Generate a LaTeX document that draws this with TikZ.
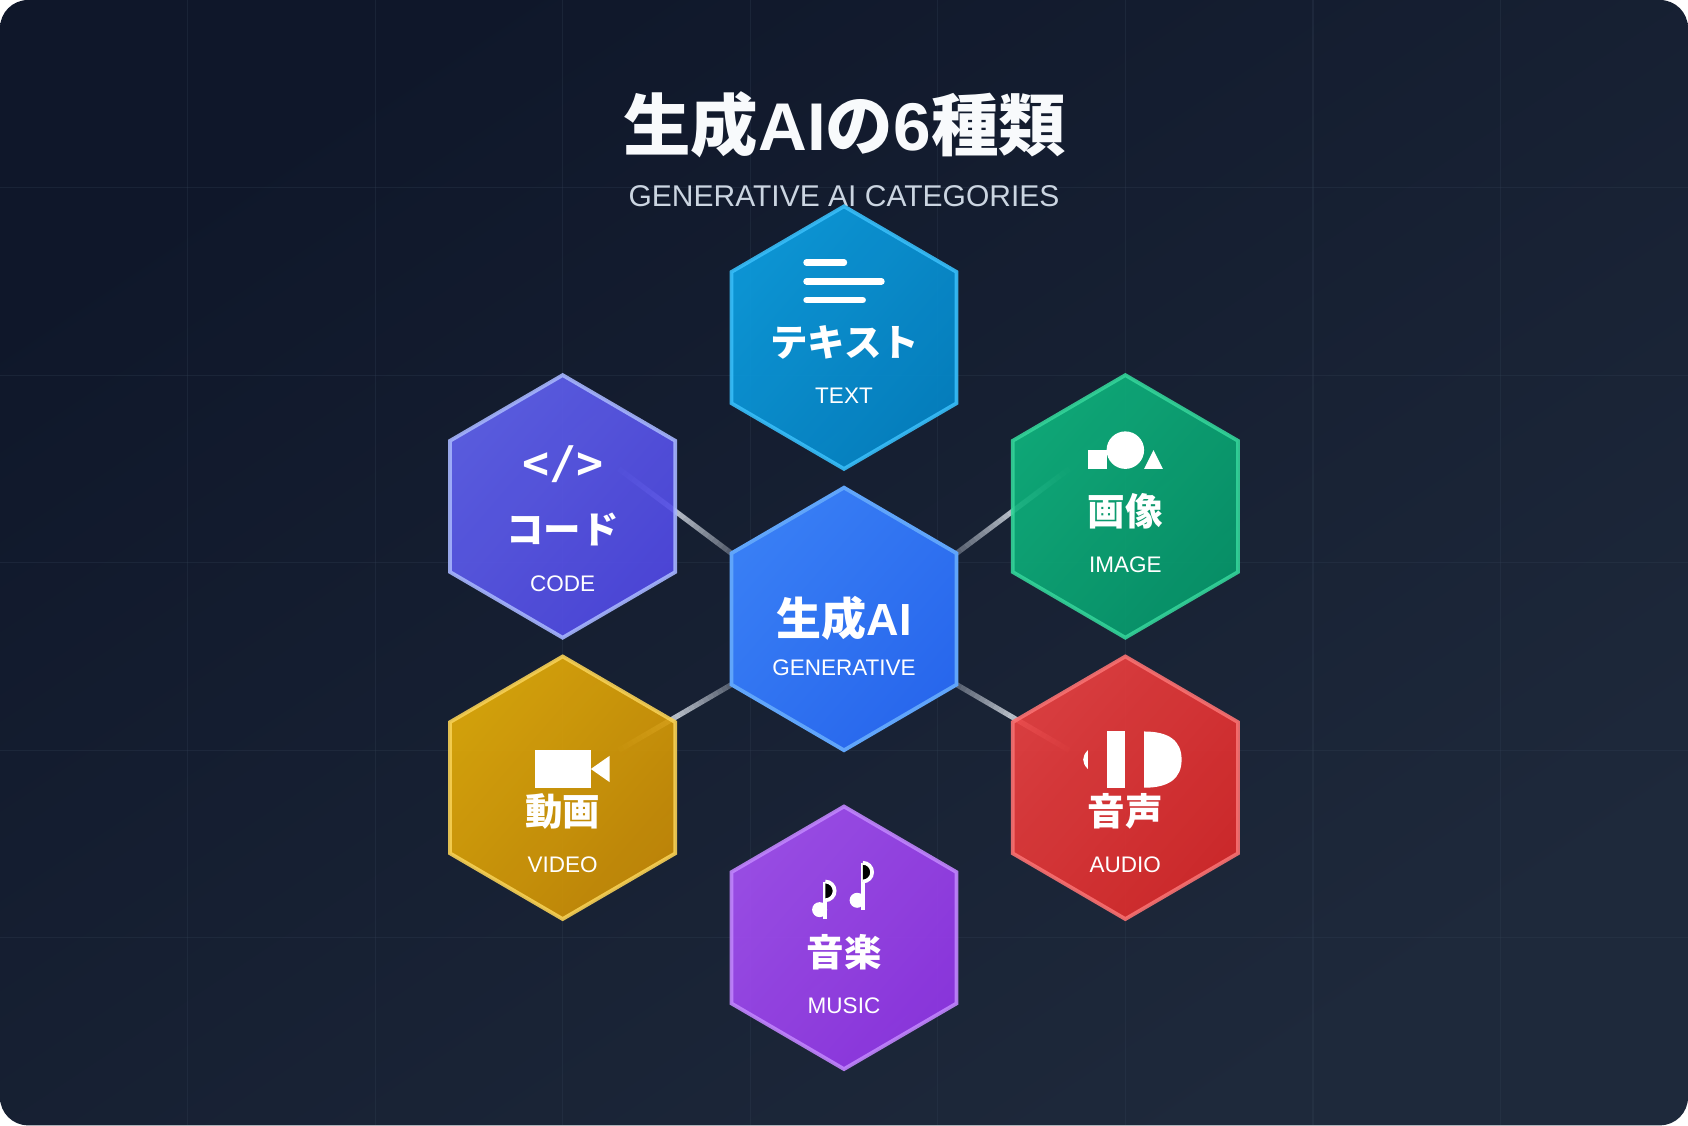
\documentclass[tikz,border=0pt]{standalone}
\usepackage{fontspec}
\setmainfont{Liberation Sans}
\setmonofont{DejaVu Sans Mono}
\newfontfamily\cjkfont{Noto Sans CJK JP}
\usetikzlibrary{shapes.geometric,calc}
\newcommand{\jp}[1]{{\cjkfont #1}}
\definecolor{bgtop}{HTML}{0F172A}
\definecolor{bgend}{HTML}{1E293B}
\definecolor{gridcol}{HTML}{334155}
\definecolor{subcol}{HTML}{CBD5E1}
\definecolor{titlecol}{HTML}{F8FAFC}
\definecolor{linkcol}{HTML}{E2E8F0}
\definecolor{gena}{HTML}{3B82F6}\definecolor{genb}{HTML}{2563EB}\definecolor{genc}{HTML}{60A5FA}
\definecolor{txta}{HTML}{0EA5E9}\definecolor{txtb}{HTML}{0284C7}\definecolor{txtc}{HTML}{38BDF8}
\definecolor{coda}{HTML}{6366F1}\definecolor{codb}{HTML}{4F46E5}\definecolor{codc}{HTML}{A5B4FC}
\definecolor{imga}{HTML}{10B981}\definecolor{imgb}{HTML}{059669}\definecolor{imgc}{HTML}{34D399}
\definecolor{vida}{HTML}{EAB308}\definecolor{vidb}{HTML}{CA8A04}\definecolor{vidc}{HTML}{F6D055}
\definecolor{auda}{HTML}{EF4444}\definecolor{audb}{HTML}{DC2626}\definecolor{audc}{HTML}{F87171}
\definecolor{musa}{HTML}{A855F7}\definecolor{musb}{HTML}{9333EA}\definecolor{musc}{HTML}{C084FC}
\pgfdeclarelayer{back}
\pgfdeclarelayer{wires}
\pgfsetlayers{back,wires,main}
\tikzset{
  hexcell/.style n args={3}{regular polygon,regular polygon sides=6,shape border rotate=30,
    minimum size=131.25pt,inner sep=0pt,outer sep=0pt,line width=1.875pt,xscale=.99,transform shape,
    top color=#1!88!#2,bottom color=#2!88!#1,shading angle=49,draw=#3},
  hexlabel/.style={anchor=base,inner sep=0pt,text=white,font=\bfseries\fontsize{18.75}{20}\selectfont},
  hexsub/.style={anchor=base,inner sep=0pt,text=white,font=\fontsize{11.25}{13}\selectfont},
  link/.style={draw=linkcol,line width=2.6pt}
}
% a link is a row of short pieces, faint at the centre, strongest half way
\newcommand{\linkline}[2]{
  \foreach \i in {0,...,23} {
    \pgfmathsetmacro{\ta}{\i/24}
    \pgfmathsetmacro{\tb}{(\i+1)/24}
    \pgfmathsetmacro{\tm}{(\i+.5)/24}
    \pgfmathsetmacro{\op}{\tm<.5 ? .3+\tm : .8-(\tm-.5)*1.5}
    \draw[link,draw opacity=\op] ($(#1)!\ta!(#2)$)--($(#1)!\tb!(#2)$);
  }
}
\begin{document}
\begin{tikzpicture}[x=0.9375pt,y=-0.9375pt]
\useasboundingbox (0,0) rectangle (900,600);
\begin{pgfonlayer}{back}
% backdrop
\shade[top color=bgtop,bottom color=bgend,shading angle=33.7,rounded corners=14pt] (0,0) rectangle (900,600);
\foreach \x in {100,200,...,800} \draw[gridcol,opacity=.3,line width=.6pt] (\x,0)--(\x,600);
\foreach \y in {100,200,...,500} \draw[gridcol,opacity=.3,line width=.6pt] (0,\y)--(900,\y);
% heading
\node[anchor=base,inner sep=0pt,text=titlecol,font=\bfseries\fontsize{33.75}{36}\selectfont] (title) at (450.4,80) {\jp{生成}AI\jp{の}6\jp{種類}};
\node[anchor=base,inner sep=0pt,text=subcol,font=\fontsize{15}{17}\selectfont] (subtitle) at (450,110) {GENERATIVE AI CATEGORIES};
\end{pgfonlayer}
% hexagons
\node[hexcell={gena}{genb}{genc}] (gen) at (450,330) {};
\begin{scope}[opacity=.9]
\node[hexcell={txta}{txtb}{txtc}] (txt) at (450,180) {};
\node[hexcell={coda}{codb}{codc}] (code) at (300,270) {};
\node[hexcell={imga}{imgb}{imgc}] (img) at (600,270) {};
\node[hexcell={vida}{vidb}{vidc}] (vid) at (300,420) {};
\node[hexcell={auda}{audb}{audc}] (aud) at (600,420) {};
\node[hexcell={musa}{musb}{musc}] (mus) at (450,500) {};
\end{scope}
\coordinate (codeend) at (330,250);
\coordinate (imgend) at (570,250);
\coordinate (vidend) at (330,400);
\coordinate (audend) at (570,400);
\begin{pgfonlayer}{wires}
\linkline{gen.150}{codeend}
\linkline{gen.30}{imgend}
\linkline{gen.210}{vidend}
\linkline{gen.330}{audend}
\end{pgfonlayer}
% labels
\node[hexlabel,font=\bfseries\fontsize{22.5}{24}\selectfont] (genname) at (450,339) {\jp{生成}AI};
\node[hexsub] (gensub) at (450,360) {GENERATIVE};
\node[hexlabel] (txtname) at (450.5,190) {\jp{テキスト}};
\node[hexsub] (txtsub) at (450,215) {TEXT};
\node[hexlabel] (codename) at (300,290) {\jp{コード}};
\node[hexsub] (codesub) at (300,315.5) {CODE};
\node[hexlabel] (imgname) at (600,280) {\jp{画像}};
\node[hexsub] (imgsub) at (600,305) {IMAGE};
\node[hexlabel] (vidname) at (300,440) {\jp{動画}};
\node[hexsub] (vidsub) at (300,465) {VIDEO};
\node[hexlabel] (audname) at (600,440) {\jp{音声}};
\node[hexsub] (audsub) at (600,465) {AUDIO};
\node[hexlabel] (musname) at (450,515.5) {\jp{音楽}};
\node[hexsub] (mussub) at (450,540.5) {MUSIC};
% icons
\draw[white,line width=3.2pt,line cap=round] (430,140)--(450,140);
\draw[white,line width=3.2pt,line cap=round] (430,150)--(470,150);
\draw[white,line width=3.2pt,line cap=round] (430,160)--(460,160);
\node[hexlabel,font=\ttfamily\bfseries\fontsize{22.5}{24}\selectfont] (codeicon) at (300,255) {</>};
\fill[white] (580,240) rectangle (590,250);
\fill[white] (600,240) circle[radius=10];
\fill[white] (615,240)--(620,250)--(610,250)--cycle;
\fill[white] (285,400) rectangle (315,420);
\fill[white] (315,410)--(325,403)--(325,417)--cycle;
\fill[white] (580,400) .. controls (576.7,403.3) and (576.7,406.7) .. (580,410)--cycle;
\fill[white] (590,390) rectangle (600,420);
\fill[white] (610,390) .. controls (623.3,390) and (630,395) .. (630,405) .. controls (630,415) and (623.3,420) .. (610,420)--cycle;
\fill[white] (437,485) circle[radius=4];
\draw[white,line width=1.875pt] (440,490)--(440,470);
\draw[white,fill=black,line width=1.875pt] (440,470) arc[start angle=-90,end angle=90,radius=5];
\fill[white] (457,480) circle[radius=4];
\draw[white,line width=1.875pt] (460,485)--(460,460);
\draw[white,fill=black,line width=1.875pt] (460,460) arc[start angle=-90,end angle=90,radius=5];
\end{tikzpicture}
\end{document}
